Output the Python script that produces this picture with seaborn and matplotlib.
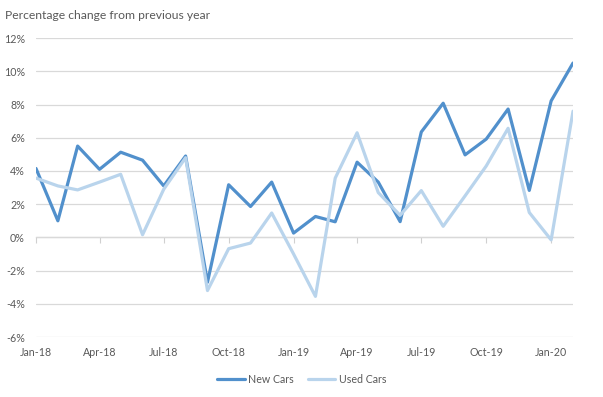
import numpy as np
import pandas as pd
import seaborn as sns
import matplotlib.pyplot as plt
import matplotlib.dates as mdates
from matplotlib.ticker import FuncFormatter

# Monthly data, Jan-18 .. Feb-20
months = pd.date_range('2018-01-01', periods=26, freq='MS')

new_cars = [4.15, 1.0, 5.5, 4.1, 5.13, 4.65, 3.1, 4.9, -2.7, 3.17, 1.86, 3.33,
            0.26, 1.26, 0.94, 4.53, 3.33, 0.95, 6.35, 8.08, 4.97, 5.92, 7.73,
            2.83, 8.22, 10.5]
used_cars = [3.57, 3.1, 2.86, 3.33, 3.8, 0.16, 2.9, 4.8, -3.2, -0.68, -0.34,
             1.47, -1.0, -3.55, 3.57, 6.3, 2.7, 1.33, 2.82, 0.67, 2.5, 4.3,
             6.57, 1.5, -0.15, 7.6]

series_names = ['New Cars', 'Used Cars']
colors = ['#5190cc', '#b9d4ec']

df = pd.DataFrame({
    'month': np.tile(months, 2),
    'change': new_cars + used_cars,
    'series': np.repeat(series_names, len(months)),
})

sns.set_style('white')
plt.rcParams['font.family'] = ['Lato', 'DejaVu Sans']

fig = plt.figure(figsize=(6.03, 3.97), dpi=100)
ax = fig.add_axes([0.0597, 0.151, 0.8906, 0.753])

sns.lineplot(data=df, x='month', y='change', hue='series',
             palette=colors, linewidth=2.3, ax=ax, legend=True)

# Axes ranges and ticks
ax.set_xlim(pd.Timestamp('2018-01-01'), pd.Timestamp('2020-02-01'))
ax.set_ylim(-6, 12)
ax.set_yticks(np.arange(-6, 13, 2))
ax.yaxis.set_major_formatter(FuncFormatter(lambda v, p: f'{v:.0f}%'))
ax.xaxis.set_major_locator(mdates.MonthLocator(bymonth=[1, 4, 7, 10]))
ax.xaxis.set_major_formatter(mdates.DateFormatter('%b-%y'))

ax.grid(axis='y', color='#d9d9d9', linewidth=0.9)
ax.set_axisbelow(True)
for s in ax.spines.values():
    s.set_visible(False)
ax.tick_params(axis='both', length=0, labelsize=7.7, labelcolor='#595959')
ax.tick_params(axis='y', pad=8)
ax.tick_params(axis='x', pad=7)
ax.set_xlabel('')
ax.set_ylabel('')

# small tick marks along the 0% line
zero_axis = ax.secondary_xaxis(1 / 3)
zero_axis.xaxis.set_major_locator(mdates.MonthLocator(bymonth=[1, 4, 7, 10]))
zero_axis.tick_params(axis='x', length=4, color='#d0d0d0', labelbottom=False,
                      labeltop=False, direction='out')
zero_axis.spines['bottom'].set_color('#d0d0d0')
zero_axis.spines['bottom'].set_linewidth(0.9)
zero_axis.set_xticklabels([])

# title
fig.text(0.008, 0.962, 'Percentage change from previous year', fontsize=8.7,
         color='#595959', ha='left', va='center')

# legend at bottom
handles, labels = ax.get_legend_handles_labels()
ax.get_legend().remove()
leg = fig.legend(handles, labels, loc='center', bbox_to_anchor=(0.5, 0.045),
                 ncol=2, frameon=False, fontsize=7.7, handlelength=2.6,
                 handletextpad=0.3, columnspacing=1.3)
for t in leg.get_texts():
    t.set_color('#595959')

fig.savefig('out.png', dpi=100)
